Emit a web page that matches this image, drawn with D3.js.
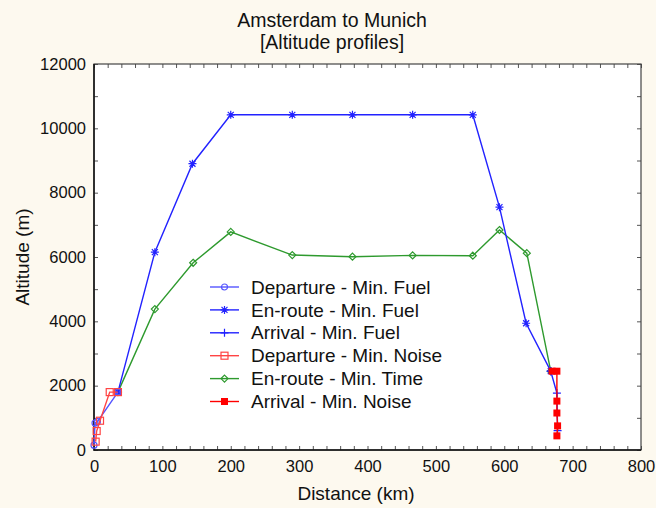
<!DOCTYPE html>
<meta charset="utf-8">
<script src="https://cdn.jsdelivr.net/npm/d3@7"></script>
<style>
  body { margin: 0; background: #fdf9ef; }
  text { font-family: Arial, "Liberation Sans", sans-serif; fill: #111; }
</style>
<div id="chart"></div>
<script>
  // distances (km) and altitudes (m)
  const depFuelX = [0, 1.5, 5, 35];
  const depFuelY = [150, 840, 880, 1800];
  const depNoiseX = [2.4, 3.9, 8.8, 23, 35];
  const depNoiseY = [260, 590, 910, 1800, 1800];
  const enFuelX = [35, 89, 144, 200, 290, 378, 466, 554, 593, 632, 668];
  const enFuelY = [1800, 6150, 8900, 10420, 10420, 10420, 10420, 10420, 7550, 3940, 2450];
  const enTimeX = [35, 89, 145, 200, 290, 378, 466, 554, 593, 633, 668];
  const enTimeY = [1800, 4380, 5820, 6780, 6060, 6010, 6050, 6040, 6840, 6120, 2450];
  const arrFuelX = [668, 677, 678];
  const arrFuelY = [2450, 1770, 600];
  const arrNoiseX = [670, 677, 677, 677, 678, 677];
  const arrNoiseY = [2450, 2450, 1520, 1150, 750, 440];

  const xTicks = [0, 100, 200, 300, 400, 500, 600, 700, 800];
  const yTicks = [0, 2000, 4000, 6000, 8000, 10000, 12000];

  const series = [
    { name: "Departure - Min. Fuel", xs: depFuelX, ys: depFuelY, color: "#5555ff", marker: "circle" },
    { name: "En-route - Min. Fuel", xs: enFuelX, ys: enFuelY, color: "#2222ff", marker: "star" },
    { name: "Arrival - Min. Fuel", xs: arrFuelX, ys: arrFuelY, color: "#2222ff", marker: "plus" },
    { name: "Departure - Min. Noise", xs: depNoiseX, ys: depNoiseY, color: "#ff4444", marker: "square" },
    { name: "En-route - Min. Time", xs: enTimeX, ys: enTimeY, color: "#2e9a2e", marker: "diamond" },
    { name: "Arrival - Min. Noise", xs: arrNoiseX, ys: arrNoiseY, color: "#ff0000", marker: "filled" }
  ];

  const W = 656, H = 508;
  const m = { left: 94, right: 15, top: 64, bottom: 58 };
  const font = "Arial, 'Liberation Sans', sans-serif";

  const svg = d3.select("#chart").append("svg")
    .attr("width", W).attr("height", H);

  const x = d3.scaleLinear().domain([0, 800]).range([m.left, W - m.right]);
  const y = d3.scaleLinear().domain([0, 12000]).range([H - m.bottom, m.top]);

  svg.append("rect")
    .attr("x", m.left).attr("y", m.top)
    .attr("width", x(800) - x(0)).attr("height", y(0) - y(12000))
    .attr("fill", "#fff");

  // inward ticks on all four sides
  const minorX = d3.range(0, 801, 20);
  const minorY = d3.range(0, 12001, 1000);
  svg.append("g").attr("transform", `translate(0,${y(0)})`)
    .call(d3.axisBottom(x).tickValues(minorX).tickSize(-4).tickFormat(""))
    .call(g => g.select(".domain").remove());
  svg.append("g").attr("transform", `translate(0,${y(12000)})`)
    .call(d3.axisTop(x).tickValues(minorX).tickSize(-4).tickFormat(""))
    .call(g => g.select(".domain").remove());
  svg.append("g").attr("transform", `translate(${x(0)},0)`)
    .call(d3.axisLeft(y).tickValues(minorY).tickSize(-4).tickFormat(""))
    .call(g => g.select(".domain").remove());
  svg.append("g").attr("transform", `translate(${x(800)},0)`)
    .call(d3.axisRight(y).tickValues(minorY).tickSize(-4).tickFormat(""))
    .call(g => g.select(".domain").remove());
  svg.selectAll(".tick line").attr("stroke", "#555");

  // tick labels
  svg.append("g").attr("transform", `translate(0,${y(0)})`)
    .call(d3.axisBottom(x).tickValues(xTicks).tickSize(0).tickPadding(10).tickFormat(d3.format("d")))
    .call(g => g.select(".domain").remove())
    .selectAll("text").attr("font-size", 16.5).attr("fill", "#111").style("font-family", font);
  svg.append("g").attr("transform", `translate(${x(0)},0)`)
    .call(d3.axisLeft(y).tickValues(yTicks).tickSize(0).tickPadding(8).tickFormat(d3.format("d")))
    .call(g => g.select(".domain").remove())
    .selectAll("text").attr("font-size", 16.5).attr("fill", "#111").style("font-family", font);

  // frame
  svg.append("rect")
    .attr("x", x(0)).attr("y", y(12000))
    .attr("width", x(800) - x(0)).attr("height", y(0) - y(12000))
    .attr("fill", "none").attr("stroke", "#444").attr("stroke-width", 1.2);
  svg.append("path")
    .attr("d", `M${x(0)},${y(12000)}V${y(0)}H${x(800)}`)
    .attr("fill", "none").attr("stroke", "#111").attr("stroke-width", 1.5);

  const plot = svg.append("g");

  function drawMarker(g, type, cx, cy, color) {
    if (type === "circle") {
      g.append("circle").attr("cx", cx).attr("cy", cy).attr("r", 3)
        .attr("fill", "none").attr("stroke", color).attr("stroke-width", 1.2);
    } else if (type === "star") {
      const r = 4;
      g.append("path")
        .attr("d", `M${cx - r},${cy}H${cx + r}M${cx},${cy - r}V${cy + r}` +
          `M${cx - r * 0.75},${cy - r * 0.75}L${cx + r * 0.75},${cy + r * 0.75}` +
          `M${cx - r * 0.75},${cy + r * 0.75}L${cx + r * 0.75},${cy - r * 0.75}`)
        .attr("stroke", color).attr("stroke-width", 1.2).attr("fill", "none");
    } else if (type === "plus") {
      const r = 4;
      g.append("path").attr("d", `M${cx - r},${cy}H${cx + r}M${cx},${cy - r}V${cy + r}`)
        .attr("stroke", color).attr("stroke-width", 1.2);
    } else if (type === "square") {
      g.append("rect").attr("x", cx - 3.5).attr("y", cy - 3.5).attr("width", 7).attr("height", 7)
        .attr("fill", "none").attr("stroke", color).attr("stroke-width", 1.2);
    } else if (type === "diamond") {
      const r = 3.5;
      g.append("path").attr("d", `M${cx},${cy - r}L${cx + r},${cy}L${cx},${cy + r}L${cx - r},${cy}Z`)
        .attr("fill", "none").attr("stroke", color).attr("stroke-width", 1.2);
    } else if (type === "filled") {
      g.append("rect").attr("x", cx - 3.5).attr("y", cy - 3.5).attr("width", 7).attr("height", 7)
        .attr("fill", color);
    }
  }

  const line = d3.line().x(d => x(d[0])).y(d => y(d[1]));

  const order = [4, 1, 0, 3, 2, 5];
  order.forEach(i => {
    const s = series[i];
    const pts = s.xs.map((v, k) => [v, s.ys[k]]);
    plot.append("path").attr("d", line(pts))
      .attr("fill", "none").attr("stroke", s.color).attr("stroke-width", 1.4);
    pts.forEach(p => drawMarker(plot, s.marker, x(p[0]), y(p[1]), s.color));
  });

  // legend
  const leg = svg.append("g").attr("transform", "translate(210,287)");
  series.forEach((s, i) => {
    const gy = i * 22.9;
    leg.append("line").attr("x1", 0).attr("x2", 29).attr("y1", gy).attr("y2", gy)
      .attr("stroke", s.color).attr("stroke-width", 1.4);
    drawMarker(leg, s.marker, 14.5, gy, s.color);
    leg.append("text").attr("x", 41).attr("y", gy).attr("dy", "0.35em")
      .attr("font-size", 19).text(s.name);
  });

  // titles
  svg.append("text").attr("x", 332).attr("y", 27).attr("text-anchor", "middle")
    .attr("font-size", 19.5).text("Amsterdam to Munich");
  svg.append("text").attr("x", 332).attr("y", 49).attr("text-anchor", "middle")
    .attr("font-size", 19.5).text("[Altitude profiles]");
  svg.append("text").attr("x", 356).attr("y", 500).attr("text-anchor", "middle")
    .attr("font-size", 19).text("Distance (km)");
  svg.append("text").attr("transform", "translate(29,257) rotate(-90)").attr("text-anchor", "middle")
    .attr("font-size", 19).text("Altitude (m)");
</script>
